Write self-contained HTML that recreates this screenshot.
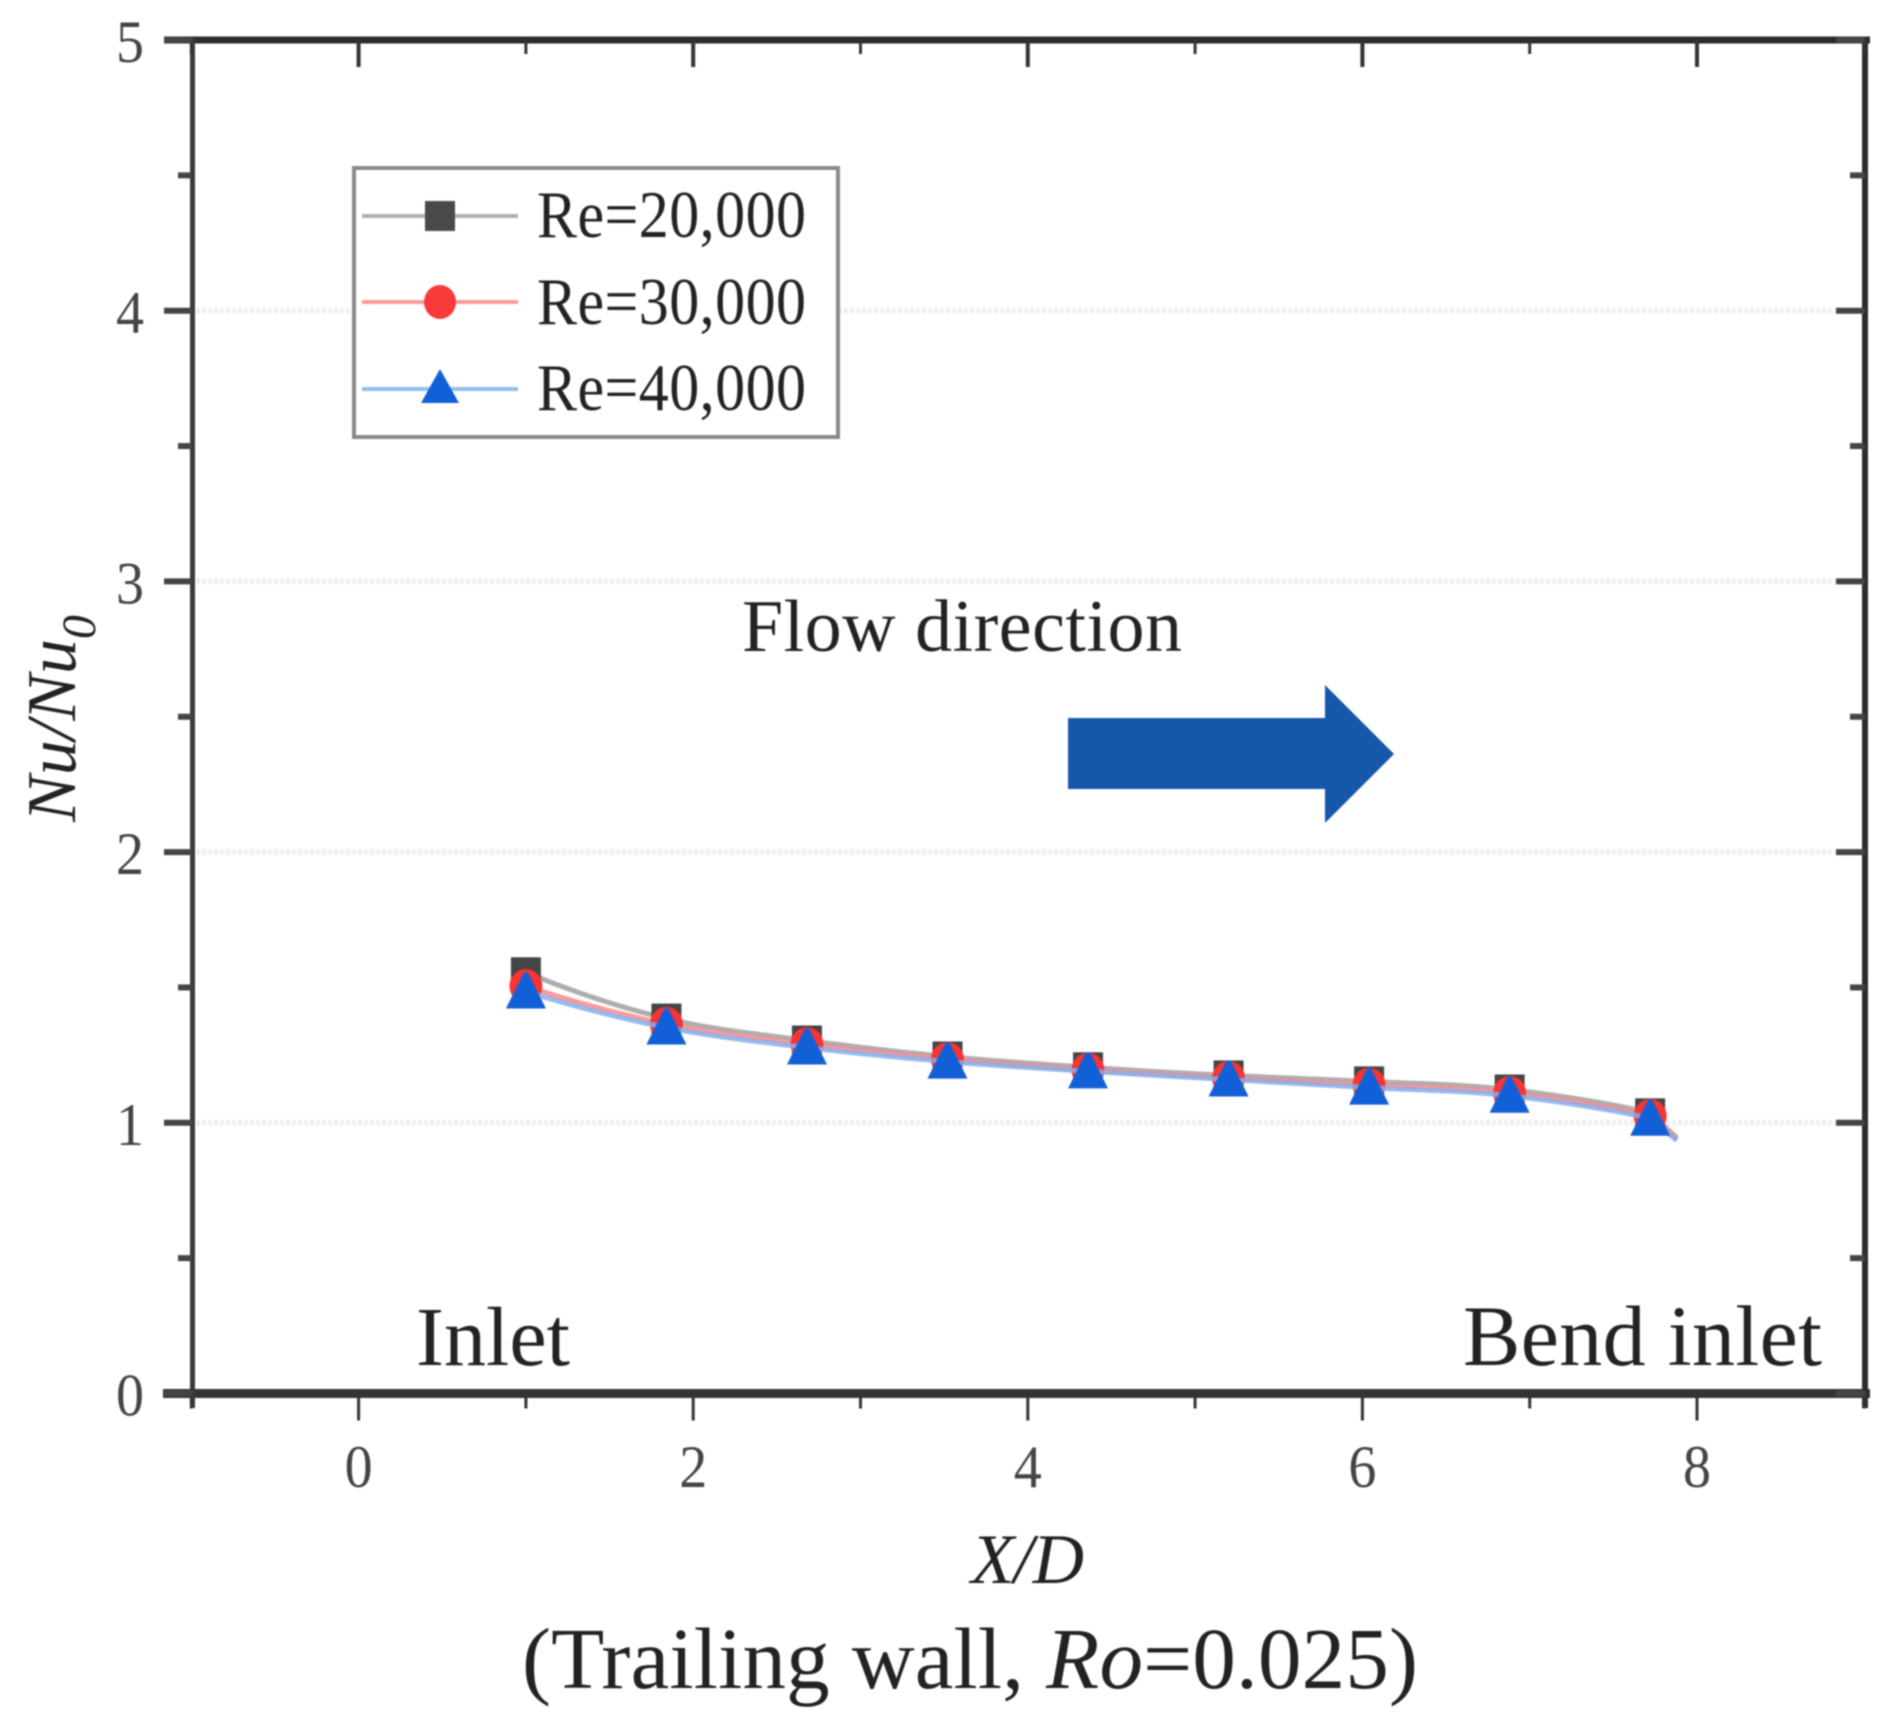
<!DOCTYPE html>
<html lang="en">
<head>
<meta charset="utf-8">
<title>Nu/Nu0 vs X/D, Trailing wall</title>
<style>
html,body{margin:0;padding:0;background:#fff;width:1892px;height:1723px;overflow:hidden}
svg{display:block;filter:blur(0.7px)}
text{font-family:"Liberation Serif",serif;fill:#222}
</style>
</head>
<body>
<svg id="chart" xmlns="http://www.w3.org/2000/svg" width="1892" height="1723" viewBox="0 0 1892 1723">
  <rect x="0" y="0" width="1892" height="1723" fill="#ffffff"/>
  <g id="grid"></g>
  <g id="axes"></g>
  <g id="series"></g>

  <g>
    <rect x="354" y="168" width="484" height="269" fill="#fff" stroke="#8a8a8a" stroke-width="4"/>
    <g>
      <line x1="362" y1="216" x2="518" y2="216" stroke="#b0b0b0" stroke-width="4"/>
      <rect x="425" y="201" width="30" height="30" fill="#4a4a4a"/>
      <text transform="translate(537 237) scale(1 1.12)" font-size="60" textLength="269">Re=20,000</text>
    </g>
    <g>
      <line x1="362" y1="302" x2="518" y2="302" stroke="#fb9a9a" stroke-width="4"/>
      <ellipse cx="440" cy="302" rx="16" ry="17" fill="#f83a3a"/>
      <text transform="translate(537 324) scale(1 1.12)" font-size="60" textLength="269">Re=30,000</text>
    </g>
    <g>
      <line x1="362" y1="389" x2="518" y2="389" stroke="#94bcf2" stroke-width="4"/>
      <polygon points="440,369 459,403 421,403" fill="#1260d8"/>
      <text transform="translate(537 410) scale(1 1.12)" font-size="60" textLength="269">Re=40,000</text>
    </g>
  </g>

  <text x="742" y="651" font-size="74" textLength="440" fill="#2a2a2a">Flow direction</text>
  <polygon points="1068,718 1325,718 1325,685 1394,754 1325,823 1325,789 1068,789" fill="#1557ab"/>
  <text x="416" y="1365" font-size="84" textLength="154">Inlet</text>
  <text x="1463" y="1365" font-size="86" textLength="359">Bend inlet</text>

  <text transform="translate(75 822) rotate(-90)" font-size="70" font-style="italic" fill="#2a2a2a">Nu/Nu<tspan font-size="48" dy="20">0</tspan></text>
  <text x="971" y="1583" font-size="71" font-style="italic" textLength="113" fill="#2a2a2a">X/D</text>
  <text x="522" y="1688" font-size="87" textLength="896" fill="#111">(Trailing wall, <tspan font-style="italic">Ro</tspan>=0.025)</text>
</svg>

<script>
// Chart data
const xPositions = [1, 1.84, 2.68, 3.52, 4.36, 5.2, 6.04, 6.88, 7.72];
const re20000 = [1.556, 1.385, 1.304, 1.245, 1.205, 1.175, 1.153, 1.123, 1.035];
const re30000 = [1.505, 1.365, 1.29, 1.235, 1.195, 1.165, 1.14, 1.11, 1.025];
const re40000 = [1.485, 1.352, 1.278, 1.226, 1.19, 1.16, 1.13, 1.1, 1.015];
const tailX = 7.88;
const tailY = [0.945, 0.94, 0.935];
const xTickLabels = [0, 2, 4, 6, 8];
const xMinorTicks = [-1, 1, 3, 5, 7, 9];
const yTickLabels = [0, 1, 2, 3, 4, 5];
const yMinorTicks = [0.5, 1.5, 2.5, 3.5, 4.5];
const gridValues = [1, 2, 3, 4];

// Axis functions
function xScale(v) { return 358.6 + (v * 167.3); }
function yScale(v) { return 1393.5 - (v * 270.7); }

const NS = 'http://www.w3.org/2000/svg';
function make(tag, parent, attrs) {
  const el = document.createElementNS(NS, tag);
  for (const k in attrs) el.setAttribute(k, attrs[k]);
  parent.appendChild(el);
  return el;
}

const gridG = document.getElementById('grid');
const axesG = document.getElementById('axes');
const seriesG = document.getElementById('series');

// grid
gridValues.forEach(function (v) {
  const el = make('line', gridG, { x1: 196, x2: 1835, y1: yScale(v), y2: yScale(v), stroke: '#efefef', 'stroke-width': 6, 'stroke-dasharray': '4 2' });
  
  
});

// axis frame
const frameColor = '#2c2c2c';
const topAxis = make('line', axesG, { x1: 164, x2: 1870, y1: 40, y2: 40, stroke: frameColor, 'stroke-width': 7 });


const bottomAxis = make('line', axesG, { x1: 163, x2: 1870, y1: yScale(0), y2: yScale(0), stroke: '#333', 'stroke-width': 9 });


const leftAxis = make('line', axesG, { x1: 192.5, x2: 192.5, y1: 38, y2: 1408, stroke: '#3a3a3a', 'stroke-width': 5 });


const rightAxis = make('line', axesG, { x1: 1865, x2: 1865, y1: 38, y2: 1408, stroke: frameColor, 'stroke-width': 6 });



// x ticks (bottom outward, top inward)
xTickLabels.forEach(function (v) {
  const px = xScale(v);
  const b = make('line', axesG, { x1: px, x2: px, y1: yScale(0), y2: yScale(0) + 27, stroke: '#333', 'stroke-width': 3 });
  
  
  const t = make('line', axesG, { x1: px, x2: px, y1: 40, y2: 67, stroke: '#333', 'stroke-width': 4 });
  
  
  const label = make('text', axesG, { transform: 'translate(' + px + ' 1487) scale(1 1.08)', 'font-size': 56, 'text-anchor': 'middle', style: 'fill:#444' });
  label.textContent = String(v);
  
  
});
xMinorTicks.forEach(function (v) {
  const px = xScale(v);
  const b = make('line', axesG, { x1: px, x2: px, y1: yScale(0), y2: yScale(0) + 15, stroke: '#333', 'stroke-width': 3 });
  
  
  const t = make('line', axesG, { x1: px, x2: px, y1: 40, y2: 54, stroke: '#333', 'stroke-width': 3 });
  
  
});

// y ticks (left outward, right inward)
yTickLabels.forEach(function (v) {
  const py = yScale(v);
  const l = make('line', axesG, { x1: 164, x2: 192, y1: py, y2: py, stroke: '#444', 'stroke-width': 6 });
  
  
  const r = make('line', axesG, { x1: 1836, x2: 1865, y1: py, y2: py, stroke: '#444', 'stroke-width': 6 });
  
  
  const label = make('text', axesG, { transform: 'translate(144 ' + (py + 22) + ') scale(1 1.08)', 'font-size': 56, 'text-anchor': 'end', style: 'fill:#444' });
  label.textContent = String(v);
  
  
});
yMinorTicks.forEach(function (v) {
  const py = yScale(v);
  const l = make('line', axesG, { x1: 178, x2: 192, y1: py, y2: py, stroke: '#444', 'stroke-width': 6 });
  
  
  const r = make('line', axesG, { x1: 1850, x2: 1865, y1: py, y2: py, stroke: '#444', 'stroke-width': 6 });
  
  
});

// smooth path through points (Catmull-Rom); the first knot extrapolates the
// curvature and the final short run to the tail stays straight, so no hook appears
function smoothPath(pts) {
  let d = 'M' + pts[0][0] + ' ' + pts[0][1];
  const n = pts.length;
  for (let i = 0; i < n - 2; i++) {
    const p1 = pts[i];
    const p2 = pts[i + 1];
    const p3 = pts[i + 2];
    const p0 = i > 0 ? pts[i - 1] : [3 * p1[0] - 3 * p2[0] + p3[0], 3 * p1[1] - 3 * p2[1] + p3[1]];
    const c1x = p1[0] + (p2[0] - p0[0]) / 6;
    const c1y = p1[1] + (p2[1] - p0[1]) / 6;
    const c2x = p2[0] - (p3[0] - p1[0]) / 6;
    const c2y = p2[1] - (p3[1] - p1[1]) / 6;
    d += ' C' + c1x + ' ' + c1y + ' ' + c2x + ' ' + c2y + ' ' + p2[0] + ' ' + p2[1];
  }
  d += ' L' + pts[n - 1][0] + ' ' + pts[n - 1][1];
  return d;
}

function drawLine(values, tail, color) {
  const pts = xPositions.map(function (x, i) { return [xScale(x), yScale(values[i])]; });
  pts.push([xScale(tailX), yScale(tail)]);
  return make('path', seriesG, { d: smoothPath(pts), fill: 'none', stroke: color, 'stroke-width': 5, 'stroke-opacity': 0.85 });
}

// Re = 20,000 (grey squares)
const line20 = drawLine(re20000, tailY[0], '#a0a0a0');


xPositions.forEach(function (x, i) {
  const m = make('rect', seriesG, { x: xScale(x) - 15, y: yScale(re20000[i]) - 15, width: 30, height: 30, fill: '#454545' });
  
  
});

// Re = 30,000 (red circles)
const line30 = drawLine(re30000, tailY[1], '#fa8a8a');


xPositions.forEach(function (x, i) {
  const m = make('ellipse', seriesG, { cx: xScale(x), cy: yScale(re30000[i]), rx: 16.5, ry: 17, fill: '#f83434' });
  
  
});

// Re = 40,000 (blue triangles)
const line40 = drawLine(re40000, tailY[2], '#86aeea');


xPositions.forEach(function (x, i) {
  const cx = xScale(x);
  const cy = yScale(re40000[i]);
  const m = make('polygon', seriesG, { points: (cx - 2) + ',' + (cy - 19) + ' ' + (cx + 2) + ',' + (cy - 19) + ' ' + (cx + 20) + ',' + (cy + 17) + ' ' + (cx - 20) + ',' + (cy + 17), fill: '#1260d8' });
  
  
});
</script>
</body>
</html>
